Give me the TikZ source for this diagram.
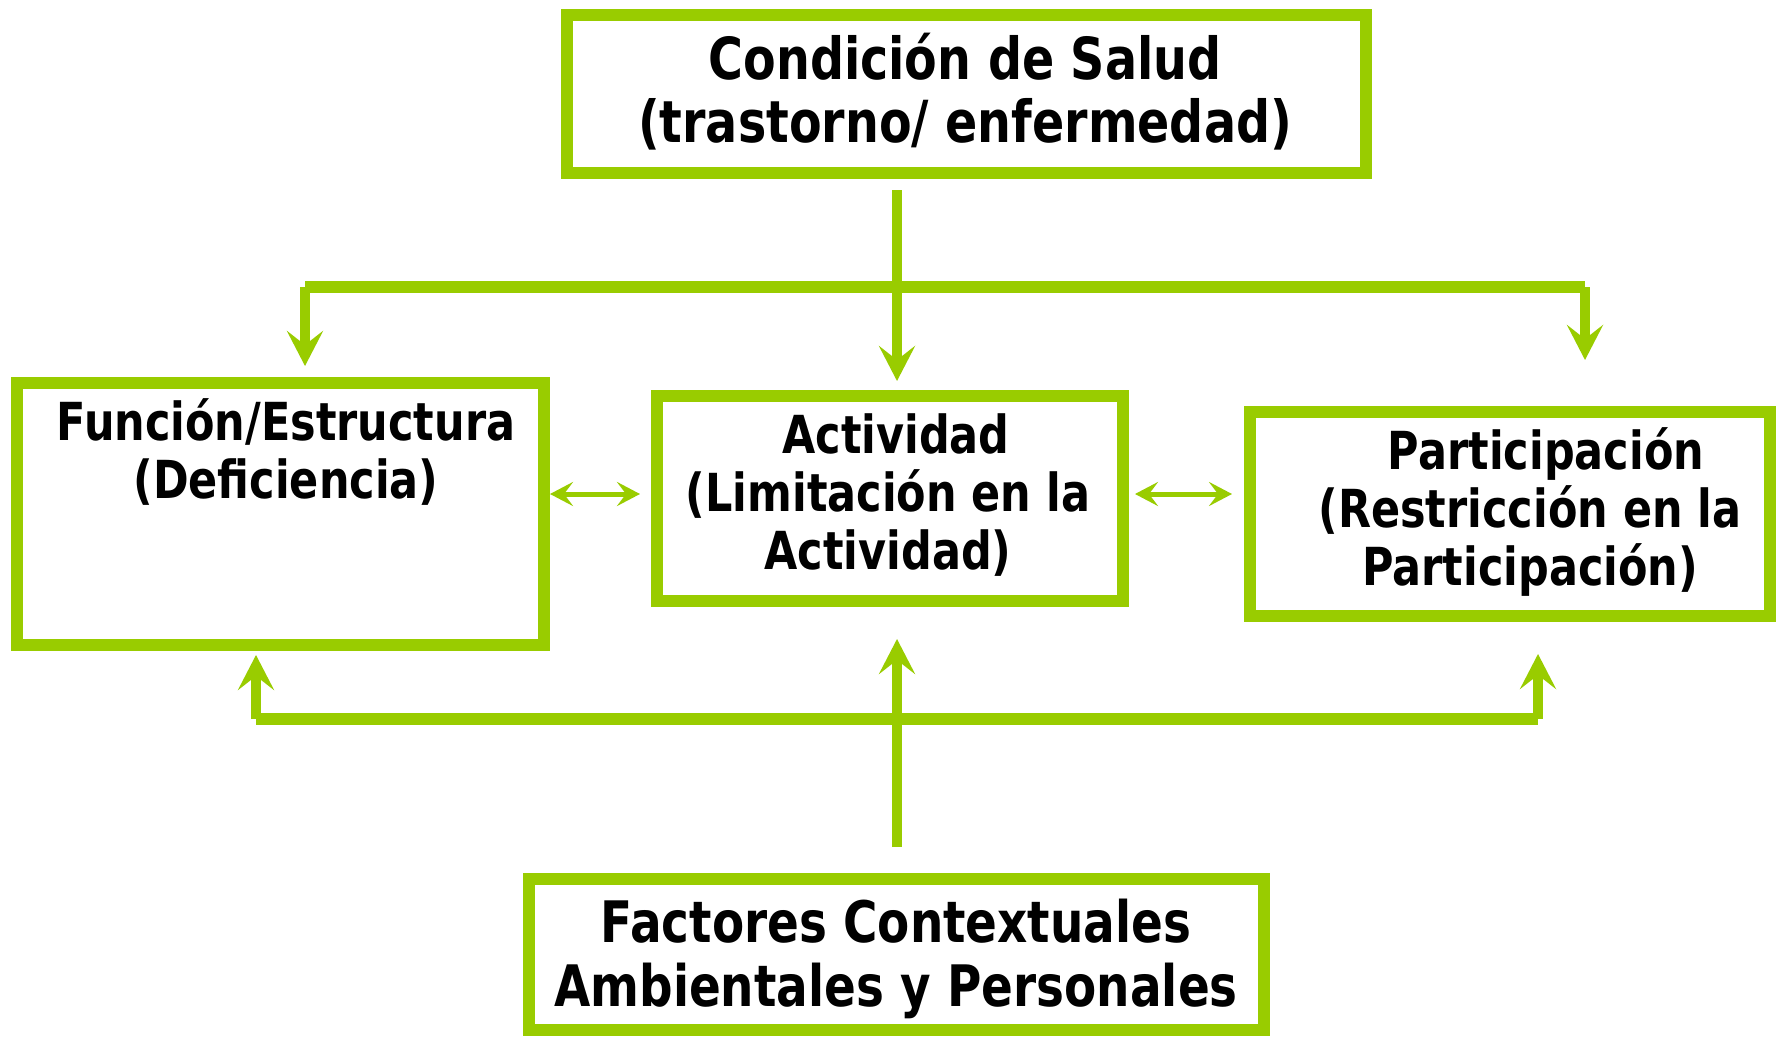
\documentclass[tikz,border=0pt]{standalone}
\usepackage{fontspec}
\newfontfamily\lbl{DejaVu Sans}[FakeStretch=0.82]
\usetikzlibrary{arrows.meta,calc}
\definecolor{grn}{RGB}{153,204,0}
\begin{document}
\begin{tikzpicture}[x=0.5pt,y=-0.5pt,
  box/.style={draw=grn, line width=6pt, rectangle, inner sep=0pt, fill=white},
  lblbig/.style={font=\lbl\bfseries\fontsize{29}{31.5}\selectfont, align=center, inner sep=0pt},
  lblbot/.style={font=\lbl\bfseries\fontsize{28.6}{32}\selectfont, align=center, inner sep=0pt},
  lblsm/.style={font=\lbl\bfseries\fontsize{26.2}{29}\selectfont, align=center, inner sep=0pt},
  conn/.style={draw=grn, line width=5pt},
  bar/.style={draw=grn, line width=6pt},
  thin/.style={draw=grn, line width=2.5pt},
  tipM/.tip={Stealth[length=17.5pt,width=18pt,inset=7pt]},
  tipS/.tip={Stealth[length=11.5pt,width=12pt,inset=4.5pt]}
]
\useasboundingbox (0,0) rectangle (1776,1038);
\fill[white] (0,0) rectangle (1776,1038);

% boxes
\node[box, minimum width=399.5pt, minimum height=79pt] (top) at (966.5,94) {};
\node[box, minimum width=263.5pt, minimum height=131pt] (fun) at (280.5,514) {};
\node[box, minimum width=233pt, minimum height=102.5pt] (mid) at (890,498.5) {};
\node[box, minimum width=260pt, minimum height=102pt] (par) at (1510,514) {};
\node[box, minimum width=367.5pt, minimum height=75.5pt] (fac) at (896.5,954.5) {};

% texts
\node[lblbig] (ttop) at (965,92) {Condición de Salud\\(trastorno/ enfermedad)};
\node[lblsm] (tfun) at (286,452) {Función/Estructura\\(Deficiencia)};
\node[lblsm] (tmid) at (888,495) {\hspace*{8pt}Actividad\\(Limitación en la\\Actividad)};
\node[lblsm] (tpar) at (1530,512) {\hspace*{16pt}Participación\\(Restricción en la\\Participación)};
\node[lblbot] (tfac) at (896,959) {Factores Contextuales\\Ambientales y Personales};

% top connectors
\coordinate (jt) at (897,287);
\coordinate (jl) at (305,287);
\coordinate (jr) at (1585,287);
\draw[bar] (jl) -- (jr);
\draw[conn,-{tipM}] ($(top.south -| jt)+(0,-5.5pt)$) -- ($(mid.north -| jt)+(0,4.5pt)$);
\draw[conn,-{tipM}] (jl) -- ($(fun.north -| jl)+(0,5.5pt)$);
\draw[conn,-{tipM}] (jr) -- ($(par.north -| jr)+(0,23pt)$);

% bottom connectors
\coordinate (bm) at (897,719);
\coordinate (bl) at (256,719);
\coordinate (br) at (1538,719);
\draw[bar] (bl) -- (br);
\draw[conn,-{tipM}] ($(fac.north -| bm)+(0,13pt)$) -- ($(mid.south -| bm)+(0,-16pt)$);
\draw[conn,-{tipM}] (bl) -- ($(fun.south -| bl)+(0,-2pt)$);
\draw[conn,-{tipM}] (br) -- ($(par.south -| br)+(0,-16pt)$);

% double arrows
\coordinate (da) at (0,494);
\draw[thin,{tipS}-{tipS}] (fun.east |- da) -- ($(mid.west |- da)+(-5.5pt,0)$);
\draw[thin,{tipS}-{tipS}] ($(mid.east |- da)+(3pt,0)$) -- ($(par.west |- da)+(-6pt,0)$);
\end{tikzpicture}
\end{document}
